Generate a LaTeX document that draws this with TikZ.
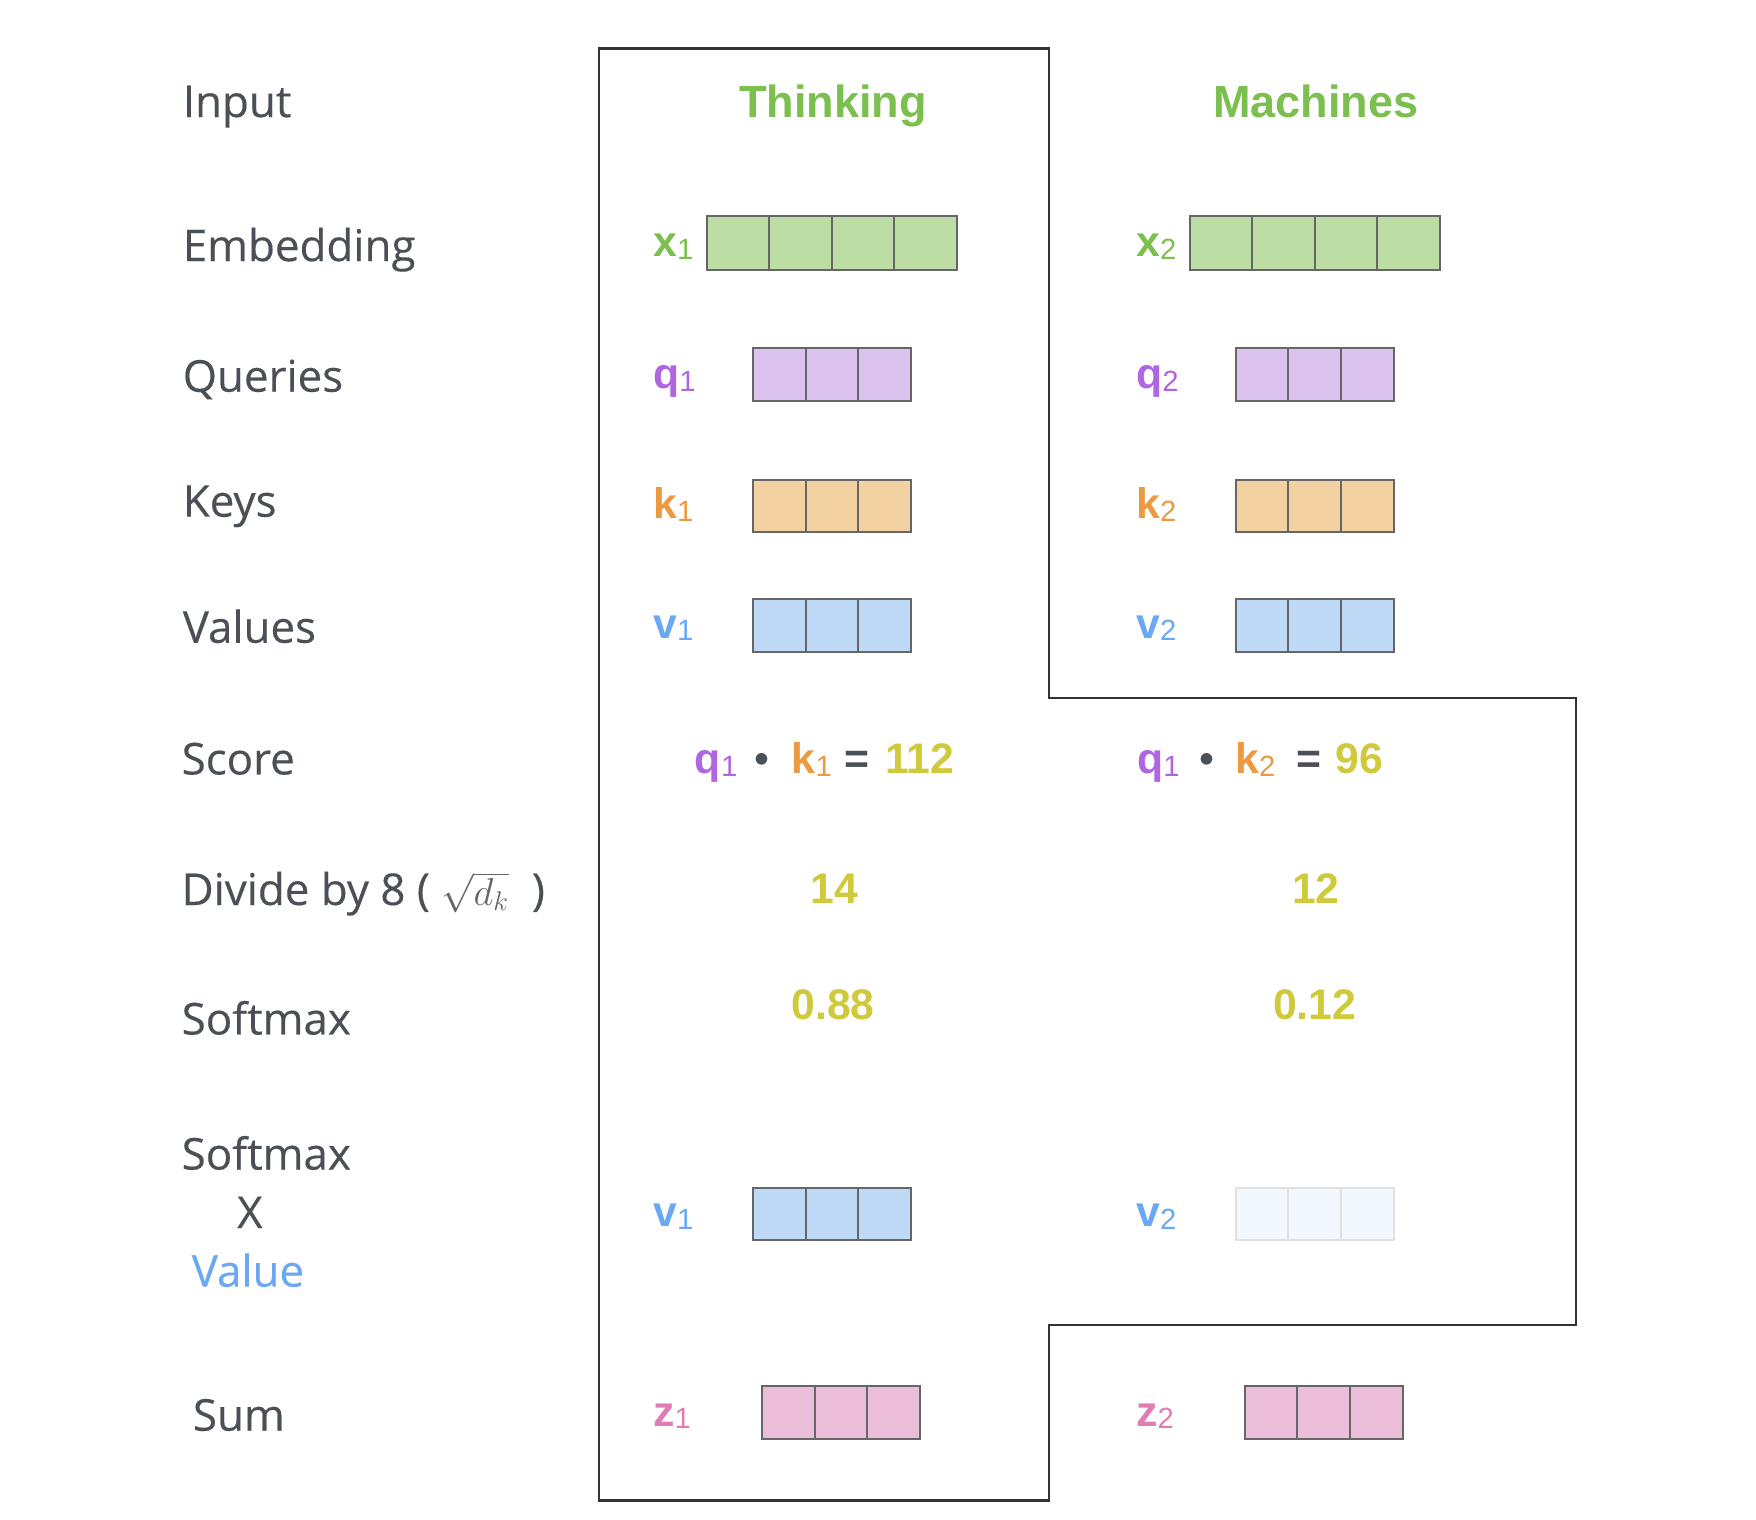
\documentclass[tikz,border=0pt]{standalone}
\usepackage{fontspec}
\setmainfont{Open Sans}[FakeBold=0.3]
\newfontfamily\arialfont{Liberation Sans}

\definecolor{labelgray}{HTML}{4B5056}
\definecolor{mathgray}{HTML}{666666}
\definecolor{cellgray}{HTML}{666666}
\definecolor{framegray}{HTML}{333333}
\definecolor{wordgreen}{HTML}{7BBF4E}
\definecolor{xfill}{HTML}{BCDEA5}
\definecolor{qcol}{HTML}{B066E0}
\definecolor{qfill}{HTML}{DCC2EE}
\definecolor{kcol}{HTML}{EC9A42}
\definecolor{kfill}{HTML}{F3D1A1}
\definecolor{vcol}{HTML}{6AA8F4}
\definecolor{vfill}{HTML}{BFDAF7}
\definecolor{zcol}{HTML}{E07DB5}
\definecolor{zfill}{HTML}{EBBDD8}
\definecolor{numcol}{HTML}{CFC93C}

\newcommand{\vsub}[2]{\textbf{#1}\raisebox{-1.2pt}{\fontsize{13}{13}\selectfont #2}}

\tikzset{
  rowlabel/.style={anchor=base west, text=labelgray, inner sep=0pt,
    font=\fontsize{19.5}{20}\selectfont},
  vname/.style={anchor=base west, inner sep=0pt,
    font=\arialfont\fontsize{19}{19}\selectfont},
  word/.style={anchor=base, text=wordgreen, inner sep=0pt,
    font=\arialfont\bfseries\fontsize{20}{20}\selectfont},
  num/.style={anchor=base, text=numcol, inner sep=0pt,
    font=\arialfont\bfseries\fontsize{19}{19}\selectfont},
  cell/.style={draw=cellgray, line width=0.9pt, inner sep=0pt,
    minimum width=23.35pt, minimum height=23.5pt},
  widecell/.style={cell, minimum width=27.75pt, minimum height=24pt},
  fadedcell/.style={cell, draw=black!12, fill=vfill!20},
}

\begin{document}
\begin{tikzpicture}[x=0.5pt, y=-0.5pt]
  \useasboundingbox (0,0) rectangle (1560,1350);

  % Row labels
  \node[rowlabel] (lInput) at (162,104) {Input};
  \node[rowlabel] (lEmb) at (162,232) {Embedding};
  \node[rowlabel] (lQuery) at (162,348) {Queries};
  \node[rowlabel] (lKey) at (162,459) {Keys};
  \node[rowlabel] (lValue) at (162,571) {Values};
  \node[rowlabel] (lScore) at (161,688) {Score};
  \node[rowlabel] (lDiv) at (161,804) {Divide by 8 ( {\color{mathgray}\fontsize{17.5}{17.5}\selectfont$\sqrt{d_k}$}\hspace{5pt} )};
  \node[rowlabel] (lSoft) at (161,919) {Softmax};
  \node[rowlabel] (lSoftA) at (161,1039) {Softmax};
  \node[rowlabel, anchor=base] (lTimes) at (222,1091) {X};
  \node[rowlabel, text=vcol] (lSoftB) at (170,1143) {Value};
  \node[rowlabel] (lSum) at (171,1271) {Sum};

  % Outline round the two words
  \draw[framegray, line width=1pt] (532,43) -- (932,43) -- (932,620) -- (1400,620)
    -- (1400,1177) -- (932,1177) -- (932,1333) -- (532,1333) -- cycle;

  % Words and their vectors
  \foreach \col/\dx/\wrd in {1/0/Thinking, 2/429/Machines} {
    \node[word] (w\col) at (740+\dx,104) {\wrd};

    \node[vname, text=wordgreen] (x\col) at (580+\dx,228) {\vsub{x}{\col}};
    \foreach \i in {1,...,4}
      \node[widecell, fill=xfill] (x\col-\i) at ({628+\dx+55.5*(\i-0.5)},216) {};

    \foreach \row/\fc/\tc/\yc/\yb in {q/qfill/qcol/333/345, k/kfill/kcol/449.5/461, v/vfill/vcol/555.5/567} {
      \node[vname, text=\tc] (\row\col) at (580+\dx,\yb) {\vsub{\row}{\col}};
      \foreach \i in {1,2,3}
        \node[cell, fill=\fc] (\row\col-\i) at ({669+\dx+46.67*(\i-0.5)},\yc) {};
    }

    % weighted values
    \node[vname, text=vcol] (wv\col) at (580+\dx,1090) {\vsub{v}{\col}};

    % sums
    \node[vname, text=zcol] (z\col) at (580+\dx,1267) {\vsub{z}{\col}};
    \foreach \i in {1,2,3}
      \node[cell, fill=zfill] (z\col-\i) at ({677+\dx+46.67*(\i-0.5)},1255) {};
  }

  \foreach \i in {1,2,3} {
    \node[cell, fill=vfill] (wv1-\i) at ({669+46.67*(\i-0.5)},1078.5) {};
    \node[fadedcell] (wv2-\i) at ({1098+46.67*(\i-0.5)},1078.5) {};
  }

  % Scores
  \node[vname, text=qcol] (s1q) at (617,687) {\vsub{q}{1}};
  \node[vname, anchor=base, text=labelgray] (s1dot) at (677,687) {•};
  \node[vname, text=kcol] (s1k) at (703,687) {\vsub{k}{1}};
  \node[vname, anchor=base, text=labelgray] (s1eq) at (761,687) {\textbf{=}};
  \node[num, anchor=base west] (s1val) at (786,687) {112};

  \node[vname, text=qcol] (s2q) at (1010,687) {\vsub{q}{1}};
  \node[vname, anchor=base, text=labelgray] (s2dot) at (1072,687) {•};
  \node[vname, text=kcol] (s2k) at (1097,687) {\vsub{k}{2}};
  \node[vname, anchor=base, text=labelgray] (s2eq) at (1163,687) {\textbf{=}};
  \node[num, anchor=base west] (s2val) at (1186,687) {96};

  % Divided and softmax
  \node[num] (d1) at (741,803) {14};
  \node[num] (d2) at (1169,803) {12};
  \node[num] (p1) at (740,906) {0.88};
  \node[num] (p2) at (1168,906) {0.12};
\end{tikzpicture}
\end{document}
